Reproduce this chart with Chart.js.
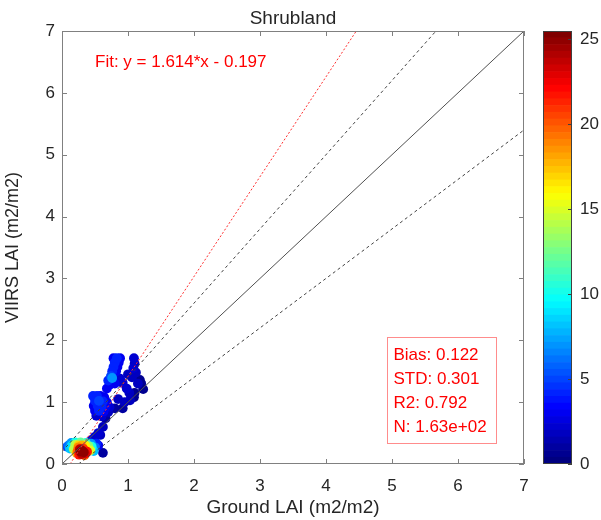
<!DOCTYPE html>
<html>
<head>
<meta charset="utf-8">
<script src="https://cdn.jsdelivr.net/npm/chart.js@4.4.1/dist/chart.umd.min.js"></script>
<style>
html, body { margin: 0; padding: 0; background: #fff; }
#wrap { position: relative; width: 601px; height: 520px; }
#main { position: absolute; left: 0; top: 0; }
#cbar { position: absolute; left: 543px; top: 0; }
</style>
</head>
<body>
<div id="wrap">
    <canvas id="main" width="601" height="520"></canvas>
    <canvas id="cbar" width="58" height="520"></canvas>
</div>
<script>
// Ground LAI vs VIIRS LAI, colour = point density
const groundLai = [
    0.78, 0.83, 0.88, 0.80, 0.86, 0.78, 0.84, 0.76, 0.82, 0.74, 0.76, 0.70, 0.72, 0.68, 0.80, 0.88, 0.92,
    1.09, 1.10, 1.08, 1.12, 1.06, 1.18, 1.15, 1.23, 1.00, 0.98, 1.02, 1.10, 0.85, 1.03, 1.09, 0.95, 0.92, 1.20,
    0.47, 0.53, 0.58, 0.64, 0.50, 0.56, 0.62, 0.68, 0.48, 0.54, 0.60, 0.66, 0.72, 0.50, 0.56, 0.63, 0.70, 0.52, 0.60, 0.80,
    0.62, 0.58, 0.55, 0.50, 0.45, 0.40, 0.62, 0.66,
    0.10, 0.15, 0.20, 0.25, 0.30, 0.35, 0.40, 0.45, 0.50, 0.55, 0.12, 0.18, 0.24, 0.28, 0.33, 0.38, 0.43, 0.48,
    0.22, 0.30, 0.35, 0.25, 0.32,
    0.08, 0.14, 0.20, 0.28, 0.36, 0.44, 0.52, 0.26, 0.34, 0.30, 0.27
];
const viirsLai = [
    1.71, 1.71, 1.71, 1.64, 1.64, 1.57, 1.57, 1.50, 1.50, 1.42, 1.39, 1.35, 1.28, 1.22, 1.30, 1.38, 1.31,
    1.71, 1.62, 1.55, 1.48, 1.40, 1.36, 1.30, 1.21, 1.45, 1.22, 1.15, 1.15, 1.05, 1.03, 1.08, 1.00, 0.90, 1.30,
    1.10, 1.10, 1.10, 1.08, 1.02, 1.02, 1.01, 1.00, 0.94, 0.94, 0.93, 0.92, 0.92, 0.86, 0.86, 0.85, 0.84, 0.78, 0.77, 0.90,
    0.60, 0.47, 0.50, 0.44, 0.39, 0.35, 0.18, 0.74,
    0.30, 0.30, 0.31, 0.30, 0.30, 0.30, 0.29, 0.28, 0.27, 0.30, 0.25, 0.24, 0.22, 0.20, 0.19, 0.20, 0.22, 0.21,
    0.18, 0.16, 0.17, 0.27, 0.25,
    0.28, 0.34, 0.35, 0.35, 0.34, 0.33, 0.33, 0.15, 0.14, 0.22, 0.24
];
const density = [
    3, 4, 3, 4, 3, 4, 3, 4, 3, 5, 7, 4, 3, 3, 3, 2, 2,
    2, 1.5, 2, 1.5, 1.5, 0.5, 1.5, 0.5, 1.5, 2, 1.5, 0.5, 1.5, 1.5, 0.5, 1.5, 1, 0.5,
    4, 4, 3, 3, 4, 5, 4, 3, 3, 4, 4, 3, 2, 3, 4, 3, 1.5, 2, 2, 1,
    1.5, 1.5, 2, 2, 2, 3, 1, 1,
    6, 9, 14, 17, 18, 16, 13, 10, 6, 3, 8, 14, 20, 25, 25, 22, 15, 8,
    18, 24, 23, 19, 21,
    5, 7, 10, 12, 11, 7, 4, 22, 20, 25, 24
];

// reference lines [slope, intercept]
const oneToOne = [1, 0];
const upperBound = [1.2, 0.2];
const lowerBound = [0.8, -0.2];
const fitLine = [1.614, -0.197];

const axisTicks = [0, 1, 2, 3, 4, 5, 6, 7];
const colorTicks = [0, 5, 10, 15, 20, 25];
const colorMax = 25.5;
const colorLevels = 64;

const statLines = ['Bias: 0.122', 'STD: 0.301', 'R2: 0.792', 'N: 1.63e+02'];
const fitText = 'Fit: y = 1.614*x - 0.197';

const FONT = 'Liberation Sans, Arial, sans-serif';
const TEXT = '#262626';

function jet(t) {
    t = Math.round(Math.max(0, Math.min(1, t)) * (colorLevels - 1)) / (colorLevels - 1);
    const c = v => Math.round(255 * Math.max(0, Math.min(1, v)));
    return `rgb(${c(1.5 - Math.abs(4 * t - 3))},${c(1.5 - Math.abs(4 * t - 2))},${c(1.5 - Math.abs(4 * t - 1))})`;
}

function lineSegment([m, b]) {
    // clip y = m*x + b to the 0..7 box
    let x0 = Math.max(0, (0 - b) / m), x1 = Math.min(7, (7 - b) / m);
    return [{x: x0, y: m * x0 + b}, {x: x1, y: m * x1 + b}];
}

// draw higher density last
const order = density.map((d, i) => i).sort((a, b) => density[a] - density[b]);
const points = order.map(i => ({x: groundLai[i], y: viirsLai[i]}));
const pointColors = order.map(i => jet(density[i] / colorMax));

const frame = {
    id: 'frame',
    afterDatasetsDraw(chart) {
        const {ctx, chartArea: a, scales: {x, y}} = chart;
        ctx.save();
        ctx.strokeStyle = '#808080';
        ctx.lineWidth = 1;
        ctx.strokeRect(a.left + 0.5, a.top + 0.5, a.right - a.left - 1, a.bottom - a.top - 1);
        ctx.beginPath();
        axisTicks.forEach(v => {
            const px = Math.round(x.getPixelForValue(v)) + 0.5;
            ctx.moveTo(px, a.bottom); ctx.lineTo(px, a.bottom - 5);
            ctx.moveTo(px, a.top); ctx.lineTo(px, a.top + 5);
            const py = Math.round(y.getPixelForValue(v)) + 0.5;
            ctx.moveTo(a.left, py); ctx.lineTo(a.left + 5, py);
            ctx.moveTo(a.right, py); ctx.lineTo(a.right - 5, py);
        });
        ctx.stroke();
        ctx.restore();
    },
    afterDraw(chart) {
        const {ctx, scales: {x, y}} = chart;
        ctx.save();
        ctx.fillStyle = '#ff0000';
        ctx.font = `17px ${FONT}`;
        ctx.textBaseline = 'middle';
        ctx.fillText(fitText, x.getPixelForValue(0.5), y.getPixelForValue(6.5));

        const bx0 = Math.round(x.getPixelForValue(4.92)) + 0.5;
        const bx1 = Math.round(x.getPixelForValue(6.58)) + 0.5;
        const by0 = Math.round(y.getPixelForValue(2.05)) + 0.5;
        const by1 = Math.round(y.getPixelForValue(0.34)) + 0.5;
        ctx.strokeStyle = '#ff8c8c';
        ctx.lineWidth = 1;
        ctx.strokeRect(bx0, by0, bx1 - bx0, by1 - by0);
        statLines.forEach((s, i) => ctx.fillText(s, bx0 + 6, by0 + 18 + i * 24));
        ctx.restore();
    }
};

new Chart(document.getElementById('main'), {
    type: 'scatter',
    data: {
        datasets: [
            {data: lineSegment(fitLine), showLine: true, borderColor: '#ff3030', borderWidth: 1, borderDash: [2, 2], pointRadius: 0},
            {data: lineSegment(upperBound), showLine: true, borderColor: '#404040', borderWidth: 1, borderDash: [3, 3], pointRadius: 0},
            {data: lineSegment(lowerBound), showLine: true, borderColor: '#404040', borderWidth: 1, borderDash: [3, 3], pointRadius: 0},
            {data: lineSegment(oneToOne), showLine: true, borderColor: '#505050', borderWidth: 1, pointRadius: 0},
            {data: points, backgroundColor: pointColors, borderWidth: 0, pointRadius: 4.9}
        ]
    },
    options: {
        responsive: false,
        animation: false,
        layout: {padding: {top: 0, right: 77, left: 0, bottom: 0}},
        plugins: {
            legend: {display: false},
            tooltip: {enabled: false},
            title: {
                display: true,
                text: 'Shrubland',
                fullSize: false,
                color: TEXT,
                font: {family: FONT, size: 19, weight: 'normal'},
                padding: {top: 7, bottom: 1.2}
            }
        },
        scales: {
            x: {
                type: 'linear', min: 0, max: 7,
                afterBuildTicks: s => { s.ticks = axisTicks.map(v => ({value: v})); },
                afterFit: s => { s.height = 56; },
                grid: {display: false, drawTicks: false},
                border: {display: false},
                ticks: {color: TEXT, font: {family: FONT, size: 17}, padding: 12},
                title: {display: true, text: 'Ground LAI (m2/m2)', color: TEXT, font: {family: FONT, size: 19}, padding: {top: 0, bottom: 1}}
            },
            y: {
                type: 'linear', min: 0, max: 7,
                afterBuildTicks: s => { s.ticks = axisTicks.map(v => ({value: v})); },
                afterFit: s => { s.width = 62; },
                grid: {display: false, drawTicks: false},
                border: {display: false},
                ticks: {color: TEXT, font: {family: FONT, size: 17}, padding: 7},
                title: {display: true, text: 'VIIRS LAI (m2/m2)', color: TEXT, font: {family: FONT, size: 18}, padding: {top: 2, bottom: 0}}
            }
        }
    },
    plugins: [frame]
});

// colour bar
const cbFrame = {
    id: 'cbFrame',
    afterDatasetsDraw(chart) {
        const {ctx, chartArea: a, scales: {y}} = chart;
        ctx.save();
        ctx.strokeStyle = '#404040';
        ctx.lineWidth = 1;
        ctx.strokeRect(a.left + 0.5, a.top + 0.5, a.right - a.left - 1, a.bottom - a.top - 1);
        ctx.beginPath();
        colorTicks.forEach(v => {
            const py = Math.round(y.getPixelForValue(v)) + 0.5;
            ctx.moveTo(a.right, py); ctx.lineTo(a.right - 4, py);
        });
        ctx.stroke();
        ctx.restore();
    }
};

const cbDatasets = [];
for (let i = 0; i < colorLevels; i++) {
    cbDatasets.push({
        data: [colorMax / colorLevels],
        backgroundColor: jet(i / (colorLevels - 1)),
        borderWidth: 0,
        barPercentage: 1,
        categoryPercentage: 1
    });
}

new Chart(document.getElementById('cbar'), {
    type: 'bar',
    data: {labels: ['c'], datasets: cbDatasets},
    options: {
        responsive: false,
        animation: false,
        layout: {padding: {top: 31, bottom: 56, left: 0, right: 0}},
        plugins: {legend: {display: false}, tooltip: {enabled: false}},
        scales: {
            x: {display: false, stacked: true},
            y: {
                stacked: true, position: 'right', min: 0, max: colorMax,
                afterBuildTicks: s => { s.ticks = colorTicks.map(v => ({value: v})); },
                afterFit: s => { s.width = 29; },
                grid: {display: false, drawTicks: false},
                border: {display: false},
                ticks: {color: TEXT, font: {family: FONT, size: 17}, padding: 8}
            }
        }
    },
    plugins: [cbFrame]
});
</script>
</body>
</html>
